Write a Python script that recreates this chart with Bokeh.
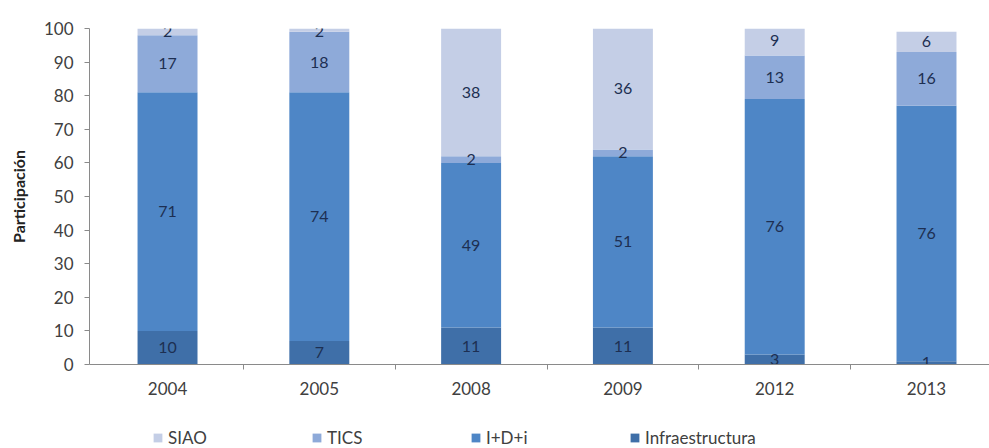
from bokeh.plotting import figure
from bokeh.layouts import column
from bokeh.models import ColumnDataSource, Range1d, FixedTicker, Legend, LegendItem
from bokeh.embed import file_html
from bokeh.resources import INLINE
from bokeh.core.properties import value

years = ["2004", "2005", "2008", "2009", "2012", "2013"]
infraestructura = [10, 7, 11, 11, 3, 1]
idi = [71, 74, 49, 51, 76, 76]
tics = [17, 18, 2, 2, 13, 16]
siao = [2, 2, 38, 36, 9, 6]
series_names = ["Infraestructura", "I+D+i", "TICS", "SIAO"]
series_values = [infraestructura, idi, tics, siao]
colors = ["#3f6fa8", "#4e86c6", "#8eaad9", "#c4cee6"]
y_ticks = list(range(0, 101, 10))

FONT = "Lato"
xs = list(range(len(years)))
keys = ["s%d" % i for i in range(len(series_names))]
data = {"x": xs}
for k, v in zip(keys, series_values):
    data[k] = v
src = ColumnDataSource(data)

p = figure(width=989, height=410, x_range=Range1d(-0.514, 5.415), y_range=Range1d(0, 100),
           output_backend="svg", toolbar_location=None,
           min_border_left=89, min_border_top=28, min_border_right=0, min_border_bottom=46)
p.outline_line_color = None
p.grid.visible = False

rs = p.vbar_stack(keys, x="x", width=0.395, color=colors, line_color=None, source=src)

# segment labels
bottoms = [0] * len(years)
lx, ly, lt = [], [], []
for vals in series_values:
    for i, v in enumerate(vals):
        lx.append(xs[i])
        ly.append(min(bottoms[i] + v / 2.0, 99.0))
        lt.append(str(v))
        bottoms[i] += v
lsrc = ColumnDataSource(dict(x=lx, y=ly, t=lt))
p.text(x="x", y="y", text="t", source=lsrc, text_align="center", text_baseline="middle",
       text_font=value(FONT), text_font_size="16px", text_color="#1d2f52")

axis_color = "#8a8a8a"
# x axis
p.xaxis.ticker = FixedTicker(ticks=xs, minor_ticks=[i + 0.5 for i in xs])
p.xaxis.major_label_overrides = {i: y for i, y in zip(xs, years)}
p.xaxis.major_tick_line_color = None
p.xaxis.major_tick_out = 0
p.xaxis.major_tick_in = 0
p.xaxis.minor_tick_out = 5
p.xaxis.minor_tick_in = 0
p.xaxis.minor_tick_line_color = axis_color
p.xaxis.axis_line_color = axis_color
p.xaxis.major_label_standoff = 12
p.xaxis.major_label_text_font = FONT
p.xaxis.major_label_text_font_size = "17px"
p.xaxis.major_label_text_color = "#404040"

# y axis
p.yaxis.ticker = FixedTicker(ticks=y_ticks, minor_ticks=[])
p.yaxis.major_tick_out = 5
p.yaxis.major_tick_in = 0
p.yaxis.major_tick_line_color = axis_color
p.yaxis.axis_line_color = axis_color
p.yaxis.major_label_standoff = 11
p.yaxis.major_label_text_font = FONT
p.yaxis.major_label_text_font_size = "17px"
p.yaxis.major_label_text_color = "#404040"
p.yaxis.axis_label = "Participación"
p.yaxis.axis_label_text_font = FONT
p.yaxis.axis_label_text_font_size = "16px"
p.yaxis.axis_label_text_font_style = "bold"
p.yaxis.axis_label_text_color = "#222222"
p.yaxis.axis_label_standoff = 13

# legend strip below the chart
p2 = figure(width=989, height=38, x_range=Range1d(0, 1), y_range=Range1d(0, 1),
            output_backend="svg", toolbar_location=None,
            x_axis_type=None, y_axis_type=None,
            min_border_left=0, min_border_right=0, min_border_top=0, min_border_bottom=0)
p2.outline_line_color = None
p2.grid.visible = False
p2.border_fill_color = "white"
p2.background_fill_color = "white"
lr = [p2.vbar(x=[0.5], top=[0], bottom=[0], width=0.0, fill_color=c, line_color=None,
              line_alpha=0) for c in colors]

items = [LegendItem(label=series_names[i], renderers=[lr[i]]) for i in [3, 2, 1, 0]]
legend = Legend(items=items, orientation="horizontal", location=(63, 0),
                glyph_width=11, glyph_height=11, label_standoff=5, spacing=10,
                label_width=133, border_line_color=None, background_fill_alpha=0,
                label_text_font=FONT, label_text_font_size="17px",
                label_text_color="#404040", margin=0, padding=0)
p2.add_layout(legend, "center")

layout = column(p, p2, spacing=0)
open("out.html", "w").write(file_html(layout, INLINE))
